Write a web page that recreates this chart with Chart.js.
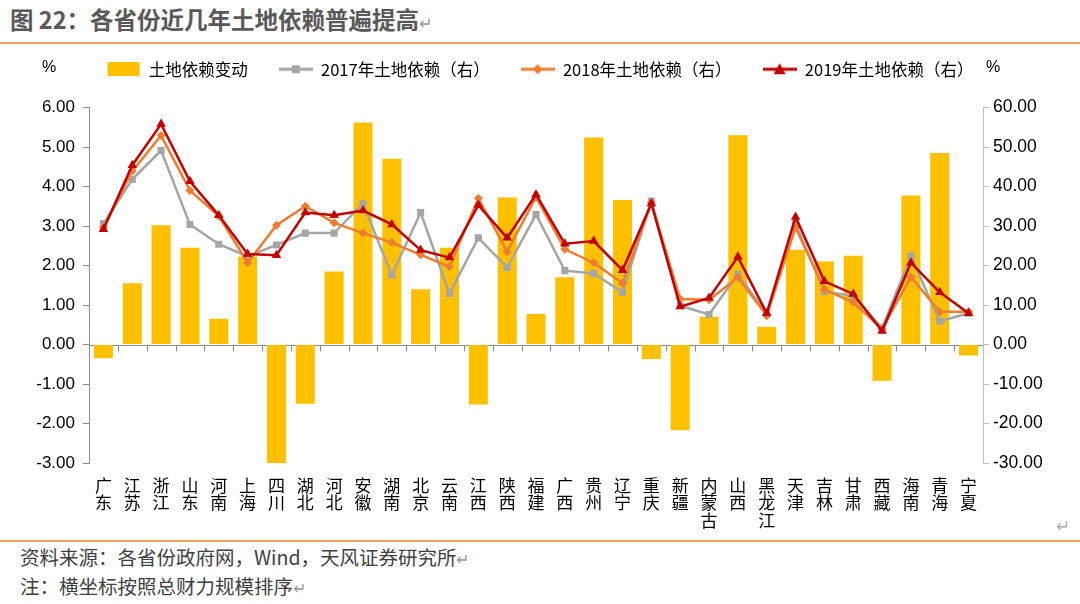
<!DOCTYPE html>
<html lang="zh">
<head>
<meta charset="UTF-8">
<title>图22 各省份近几年土地依赖普遍提高</title>
<script src="https://cdn.jsdelivr.net/npm/chart.js"></script>
<style>
    * { margin: 0; padding: 0; box-sizing: border-box; }
    body {
        width: 1080px; height: 604px; background: #fff; position: relative; overflow: hidden;
        font-family: 'Noto Sans CJK SC', 'Noto Sans', sans-serif;
    }
    .title {
        position: absolute; left: 10px; top: 2px; font-size: 23.5px; font-weight: bold; color: #595959;
    }
    .ret { color: #999; font-weight: normal; font-size: 16px; }
    .rule { position: absolute; left: 0; width: 1080px; height: 2px; background: #F0A060; }
    .chart-box { position: absolute; left: 0; top: 46px; width: 1080px; height: 492px; }
    .note { position: absolute; left: 20px; font-size: 19.5px; color: #404040; }
</style>
</head>
<body>
    <div class="title">图 22：各省份近几年土地依赖普遍提高<span class="ret">↵</span></div>
    <div class="rule" style="top:42px"></div>
    <div class="chart-box"><canvas id="landChart"></canvas></div>
    <div class="note" style="left:1056px; top:512px; color:#aaa; font-size:17px;">↵</div>
    <div class="rule" style="top:540px"></div>
    <div class="note" style="top:542px">资料来源：各省份政府网，Wind，天风证券研究所<span class="ret">↵</span></div>
    <div class="note" style="top:571px">注：横坐标按照总财力规模排序<span class="ret">↵</span></div>

<script>
    // provinces, ordered by total fiscal size
    const provinces = ['广东', '江苏', '浙江', '山东', '河南', '上海', '四川', '湖北', '河北', '安徽', '湖南', '北京', '云南', '江西', '陕西', '福建', '广西', '贵州', '辽宁', '重庆', '新疆', '内蒙古', '山西', '黑龙江', '天津', '吉林', '甘肃', '西藏', '海南', '青海', '宁夏'];

    // change in land dependence (left axis, %)
    const landChange = [-0.35, 1.55, 3.02, 2.45, 0.65, 2.22, -3.0, -1.5, 1.85, 5.62, 4.70, 1.40, 2.45, -1.52, 3.72, 0.77, 1.70, 5.24, 3.66, -0.37, -2.17, 0.70, 5.30, 0.45, 2.40, 2.10, 2.25, -0.92, 3.77, 4.85, -0.28];

    // land dependence by year (right axis, %)
    const dep2017 = [30.6, 41.8, 49.1, 30.4, 25.4, 22.3, 25.2, 28.2, 28.2, 35.7, 17.6, 33.4, 12.9, 27.0, 19.5, 32.9, 18.7, 18.0, 13.2, 36.3, 9.8, 7.6, 17.8, 7.7, 30.5, 13.4, 12.3, 4.2, 22.4, 5.9, 7.9];
    const dep2018 = [29.6, 43.9, 52.9, 39.0, 32.5, 20.7, 30.2, 35.0, 30.8, 28.2, 25.8, 22.7, 19.7, 37.0, 23.5, 37.3, 24.1, 20.7, 15.5, 35.9, 11.5, 11.3, 17.0, 7.3, 29.6, 13.9, 10.7, 3.9, 17.1, 8.3, 8.3];
    const dep2019 = [29.2, 45.4, 55.8, 41.3, 32.7, 22.9, 22.6, 33.4, 32.7, 33.9, 30.4, 23.9, 22.0, 35.3, 27.0, 38.0, 25.5, 26.2, 18.8, 35.7, 9.6, 11.8, 22.2, 7.9, 32.3, 16.0, 12.8, 3.4, 20.7, 13.2, 7.9];

    const leftTicks = [-3, -2, -1, 0, 1, 2, 3, 4, 5, 6];
    const rightTicks = [-30, -20, -10, 0, 10, 20, 30, 40, 50, 60];

    const numFont = "Arial, 'Liberation Sans', sans-serif";
    const cjkFont = "'Noto Sans CJK SC', 'Noto Sans', sans-serif";

    // legend icons: a short line with the series marker in the middle
    function legendIcon(color, marker) {
        const c = document.createElement('canvas');
        c.width = 34; c.height = 14;
        const g = c.getContext('2d');
        if (marker === 'bar') {
            g.fillStyle = color;
            g.fillRect(1, 0, 32, 14);
            return c;
        }
        g.strokeStyle = color; g.lineWidth = 3;
        g.beginPath(); g.moveTo(0, 7); g.lineTo(34, 7); g.stroke();
        g.fillStyle = color;
        g.beginPath();
        if (marker === 'rect') g.rect(13, 3, 8, 8);
        if (marker === 'diamond') { g.moveTo(17, 2); g.lineTo(22, 7); g.lineTo(17, 12); g.lineTo(12, 7); }
        if (marker === 'tri') { g.moveTo(17, 1); g.lineTo(23, 12); g.lineTo(11, 12); }
        g.closePath(); g.fill();
        return c;
    }
    const icons = [
        legendIcon('#FFC000', 'bar'),
        legendIcon('#A5A5A5', 'rect'),
        legendIcon('#ED7D31', 'diamond'),
        legendIcon('#C00000', 'tri')
    ];

    // zero line with category tick marks, and the "%" unit labels
    const axisExtras = {
        id: 'axisExtras',
        afterLayout(chart) {
            // lift the legend row up next to the "%" labels
            chart.legend.top -= 20;
            chart.legend.bottom -= 20;
        },
        beforeDatasetsDraw(chart) {
            const { ctx, scales } = chart;
            const x = scales.x, y = scales.yL;
            const y0 = Math.round(y.getPixelForValue(0)) + 0.5;
            const step = x.getPixelForValue(1) - x.getPixelForValue(0);
            ctx.save();
            ctx.strokeStyle = '#8C8C8C';
            ctx.lineWidth = 1;
            ctx.beginPath();
            ctx.moveTo(x.left, y0); ctx.lineTo(x.right, y0);
            for (let i = 1; i < provinces.length; i++) {
                const px = Math.round(x.getPixelForValue(i) - step / 2) + 0.5;
                ctx.moveTo(px, y0); ctx.lineTo(px, y0 + 6);
            }
            ctx.stroke();
            ctx.restore();
        },
        afterDraw(chart) {
            const { ctx, chartArea } = chart;
            ctx.save();
            ctx.fillStyle = '#000';
            ctx.font = '16px ' + numFont;
            ctx.textBaseline = 'middle';
            ctx.fillText('%', chartArea.left - 47, 22);
            ctx.fillText('%', chartArea.right + 3, 22);
            ctx.restore();
        }
    };

    const ctx = document.getElementById('landChart').getContext('2d');
    const landChart = new Chart(ctx, {
        data: {
            labels: provinces.map(p => p.split('')),
            datasets: [
                { type: 'line', label: '2019年土地依赖（右）', data: dep2019, yAxisID: 'yR', borderColor: '#C00000', backgroundColor: '#C00000', borderWidth: 2.5, pointStyle: 'triangle', pointRadius: 5.5, pointBorderWidth: 0, order: 1 },
                { type: 'line', label: '2018年土地依赖（右）', data: dep2018, yAxisID: 'yR', borderColor: '#ED7D31', backgroundColor: '#ED7D31', borderWidth: 2.5, pointStyle: 'rectRot', pointRadius: 4.5, pointBorderWidth: 0, order: 2 },
                { type: 'line', label: '2017年土地依赖（右）', data: dep2017, yAxisID: 'yR', borderColor: '#A5A5A5', backgroundColor: '#A5A5A5', borderWidth: 2.5, pointStyle: 'rect', pointRadius: 5, pointBorderWidth: 0, order: 3 },
                { type: 'bar', label: '土地依赖变动', data: landChange, yAxisID: 'yL', backgroundColor: '#FFC000', categoryPercentage: 1, barPercentage: 0.66, order: 4 }
            ]
        },
        options: {
            responsive: true,
            maintainAspectRatio: false,
            animation: false,
            layout: { padding: { left: 0, right: 0, top: 4, bottom: 0 } },
            plugins: {
                tooltip: { enabled: false },
                legend: {
                    position: 'top',
                    labels: {
                        usePointStyle: true,
                        pointStyleWidth: 34,
                        padding: 31,
                        color: '#000',
                        font: { size: 16.5, family: cjkFont },
                        generateLabels(chart) {
                            const order = [3, 2, 1, 0];
                            return order.map((di, k) => ({
                                text: chart.data.datasets[di].label,
                                pointStyle: icons[k],
                                datasetIndex: di,
                                hidden: false,
                                lineWidth: 0,
                                fontColor: '#000'
                            }));
                        }
                    }
                }
            },
            scales: {
                x: {
                    offset: true,
                    grid: { display: false },
                    border: { display: false },
                    ticks: {
                        autoSkip: false, maxRotation: 0, padding: 6, color: '#000',
                        font: { size: 17, family: cjkFont, lineHeight: 1.02 }
                    },
                    afterFit(scale) { scale.height = 75; }
                },
                yL: {
                    position: 'left',
                    min: -3, max: 6,
                    afterBuildTicks(scale) { scale.ticks = leftTicks.map(v => ({ value: v })); },
                    grid: { drawOnChartArea: false, tickLength: 6, color: '#8C8C8C' },
                    border: { display: true, color: '#8C8C8C' },
                    ticks: {
                        color: '#000', padding: 8,
                        font: { size: 17, family: numFont },
                        callback: v => v.toFixed(2)
                    },
                    afterFit(scale) { scale.width = 89; }
                },
                yR: {
                    position: 'right',
                    min: -30, max: 60,
                    afterBuildTicks(scale) { scale.ticks = rightTicks.map(v => ({ value: v })); },
                    grid: { drawOnChartArea: false, tickLength: 6, color: '#BFBFBF' },
                    border: { display: true, color: '#BFBFBF' },
                    ticks: {
                        color: '#000', padding: 4,
                        font: { size: 17.5, family: numFont },
                        callback: v => v.toFixed(2)
                    },
                    afterFit(scale) { scale.width = 97; }
                }
            }
        },
        plugins: [axisExtras]
    });
</script>
</body>
</html>
